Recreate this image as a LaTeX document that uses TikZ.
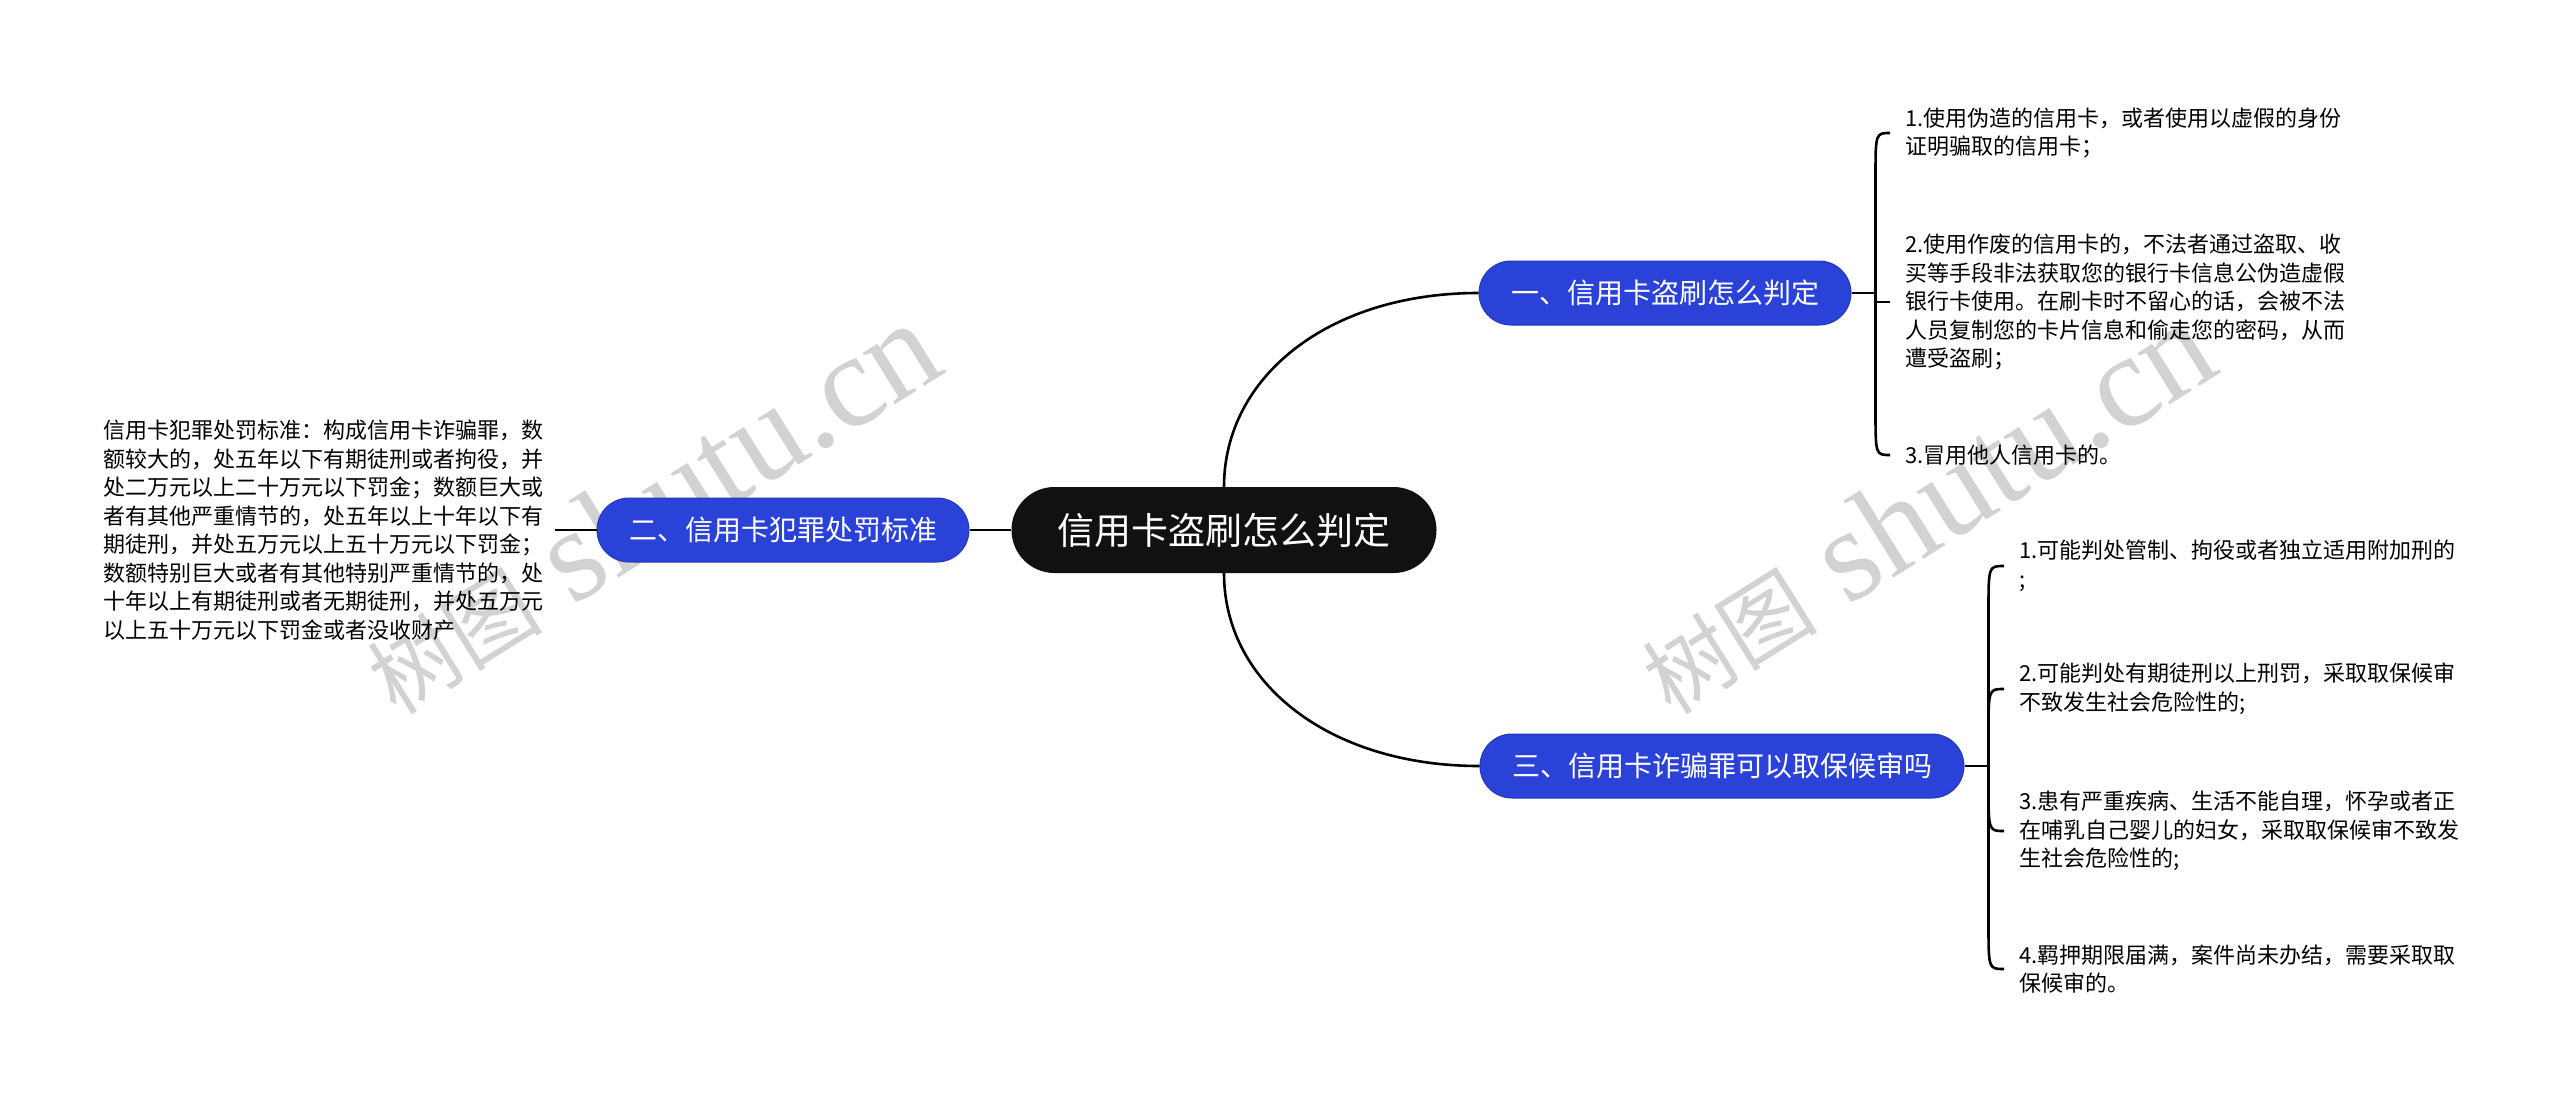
\documentclass[tikz,border=0pt]{standalone}
\usepackage{fontspec}
\setmainfont{Noto Sans CJK SC}
\newfontfamily\wmlatin{Liberation Serif}
\usetikzlibrary{calc}
\definecolor{branchblue}{HTML}{2A42D8}
\definecolor{rootblack}{HTML}{111111}
\definecolor{wmgray}{HTML}{D2D2D2}
\tikzset{
  rootbox/.style={fill=rootblack, text=white, rounded corners=43pt, minimum width=425pt,
    minimum height=86pt, inner sep=0pt, font=\fontsize{37}{37}\selectfont},
  branch/.style={fill=branchblue, draw=branchblue!85!black, line width=1pt, text=white,
    rounded corners=32pt, minimum height=64pt, inner xsep=32pt, inner ysep=0pt,
    font=\fontsize{28}{28}\selectfont},
  leaf/.style={align=left, inner xsep=15pt, inner ysep=0pt, anchor=west,
    font=\fontsize{22}{28.5}\selectfont},
  conn/.style={draw=black, line width=2.6pt},
  wmark/.style={text=wmgray, inner sep=0pt},
}
\newcommand{\wmtext}{{\fontsize{88}{88}\selectfont 树图}\hspace{32pt}{\wmlatin\fontsize{132}{132}\selectfont shutu.cn}}
\begin{document}
\begin{tikzpicture}[x=1pt, y=-1pt]
    \useasboundingbox (0,0) rectangle (2560,1101);
    \fill[white] (0,0) rectangle (2560,1101);
    % watermarks
    \node[wmark, rotate=32] (wm1) at (650,508) {\wmtext};
    \node[wmark, rotate=32] (wm2) at (1925,508) {\wmtext};
    % root and branches
    \node[rootbox] (root) at (1224,530) {信用卡盗刷怎么判定};
    \node[branch] (b1) at (1665,293) {一、信用卡盗刷怎么判定};
    \node[branch] (b2) at (783,530) {二、信用卡犯罪处罚标准};
    \node[branch] (b3) at (1722,766) {三、信用卡诈骗罪可以取保候审吗};
    % left text
    \node[leaf, anchor=east, inner xsep=11pt] (ltext) at (555,530) {信用卡犯罪处罚标准：构成信用卡诈骗罪，数\\额较大的，处五年以下有期徒刑或者拘役，并\\处二万元以上二十万元以下罚金；数额巨大或\\者有其他严重情节的，处五年以上十年以下有\\期徒刑，并处五万元以上五十万元以下罚金；\\数额特别巨大或者有其他特别严重情节的，处\\十年以上有期徒刑或者无期徒刑，并处五万元\\以上五十万元以下罚金或者没收财产};
    % items of b1
    \node[leaf] (a1) at (1890,133) {1.使用伪造的信用卡，或者使用以虚假的身份\\证明骗取的信用卡；};
    \node[leaf] (a2) at (1890,302) {2.使用作废的信用卡的，不法者通过盗取、收\\买等手段非法获取您的银行卡信息公伪造虚假\\银行卡使用。在刷卡时不留心的话，会被不法\\人员复制您的卡片信息和偷走您的密码，从而\\遭受盗刷；};
    \node[leaf] (a3) at (1890,455) {3.冒用他人信用卡的。};
    % items of b3
    \node[leaf] (c1) at (2004,566) {1.可能判处管制、拘役或者独立适用附加刑的\\;};
    \node[leaf] (c2) at (2004,689) {2.可能判处有期徒刑以上刑罚，采取取保候审\\不致发生社会危险性的;};
    \node[leaf] (c3) at (2004,831) {3.患有严重疾病、生活不能自理，怀孕或者正\\在哺乳自己婴儿的妇女，采取取保候审不致发\\生社会危险性的;};
    \node[leaf] (c4) at (2004,969) {4.羁押期限届满，案件尚未办结，需要采取取\\保候审的。};
    % connectors
    \draw[conn] (root.west) -- (b2.east);
    \draw[conn] (b2.west) -- (ltext.east);
    \draw[conn] (root.north) .. controls ($(root.north)+(0,-110)$) and ($(b1.west)+(-150,0)$) .. (b1.west);
    \draw[conn] (root.south) .. controls ($(root.south)+(0,110)$) and ($(b3.west)+(-150,0)$) .. (b3.west);
    \coordinate (j1) at ($(b1.east)+(24,0)$);
    \coordinate (j2) at ($(b3.east)+(24,0)$);
    \draw[conn] (b1.east) -- (j1);
    \draw[conn] (j1) -- ($(j1 |- a1.west)+(0,45)$) .. controls (j1 |- a1.west) .. (a1.west);
    \draw[conn] (j1) |- (a2.west);
    \draw[conn] (j1) -- ($(j1 |- a3.west)+(0,-45)$) .. controls (j1 |- a3.west) .. (a3.west);
    \draw[conn] (b3.east) -- (j2);
    \draw[conn] (j2) -- ($(j2 |- c1.west)+(0,45)$) .. controls (j2 |- c1.west) .. (c1.west);
    \draw[conn] (j2) -- ($(j2 |- c2.west)+(0,45)$) .. controls (j2 |- c2.west) .. (c2.west);
    \draw[conn] (j2) -- ($(j2 |- c3.west)+(0,-45)$) .. controls (j2 |- c3.west) .. (c3.west);
    \draw[conn] (j2) -- ($(j2 |- c4.west)+(0,-45)$) .. controls (j2 |- c4.west) .. (c4.west);
\end{tikzpicture}
\end{document}
